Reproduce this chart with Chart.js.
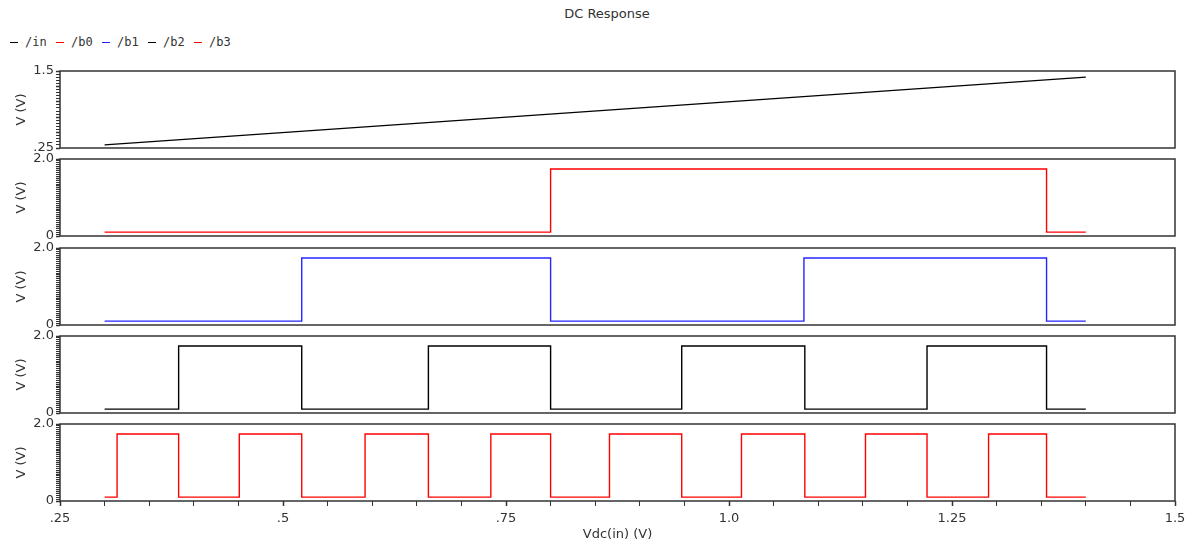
<!DOCTYPE html>
<html>
<head>
<meta charset="utf-8">
<title>DC Response</title>
<script src="https://cdn.jsdelivr.net/npm/chart.js@4.4.0/dist/chart.umd.min.js"></script>
<style>
  body { margin: 0; background: #fff; }
  #wrap { position: relative; width: 1200px; height: 552px; overflow: hidden; font-family: "DejaVu Sans", sans-serif; }
  #wrap canvas { position: absolute; left: 0; }
  #title { position: absolute; top: 6px; left: 557px; width: 100px; text-align: center; font-size: 13px; color: #333; }
  #legend { position: absolute; top: 35px; left: 10px; font-family: "DejaVu Sans Mono", monospace; font-size: 12px; color: #333; white-space: nowrap; }
  #legend .item { display: inline-block; width: 46px; }
  #legend .dash { display: inline-block; width: 8px; border-top: 1.5px solid; vertical-align: middle; margin-right: 7px; }
</style>
</head>
<body>
<div id="wrap">
  <div id="title">DC Response</div>
  <div id="legend"></div>
</div>
<script>
// series names / colours (legend order)
const seriesNames = ['/in', '/b0', '/b1', '/b2', '/b3'];
const seriesColors = ['#000000', '#ff0000', '#2626ff', '#000000', '#ff0000'];

// /in : swept input
const inX = [0.3, 1.4];
const inY = [0.3, 1.4];

// output bits, value changes at each x
const b0X = [0.3, 0.800, 1.356, 1.4];
const b0Y = [0.1, 1.74, 0.1, 0.1];
const b1X = [0.3, 0.521, 0.800, 1.084, 1.356, 1.4];
const b1Y = [0.1, 1.74, 0.1, 1.74, 0.1, 0.1];
const b2X = [0.3, 0.383, 0.521, 0.663, 0.800, 0.947, 1.085, 1.222, 1.356, 1.4];
const b2Y = [0.1, 1.74, 0.1, 1.74, 0.1, 1.74, 0.1, 1.74, 0.1, 0.1];
const b3X = [0.3, 0.314, 0.383, 0.451, 0.521, 0.592, 0.663, 0.733, 0.800,
             0.866, 0.947, 1.014, 1.085, 1.153, 1.222, 1.291, 1.356, 1.4];
const b3Y = [0.1, 1.74, 0.1, 1.74, 0.1, 1.74, 0.1, 1.74, 0.1,
             1.74, 0.1, 1.74, 0.1, 1.74, 0.1, 1.74, 0.1, 0.1];

// axes
const xRange = [0.25, 1.5];
const xTickValues = [0.25, 0.5, 0.75, 1.0, 1.25, 1.5];
const xTickLabels = ['.25', '.5', '.75', '1.0', '1.25', '1.5'];
const yRanges = [[0.25, 1.5], [0, 2], [0, 2], [0, 2], [0, 2]];
const yTickLabels = [['.25', '1.5'], ['0', '2.0'], ['0', '2.0'], ['0', '2.0'], ['0', '2.0']];

// layout of the stacked panels
const panelTop = [71, 159, 248, 336, 424];
const panelH = 77;
const pad = 10;

Chart.defaults.font.family = '"DejaVu Sans", sans-serif';
Chart.defaults.font.size = 13;
Chart.defaults.color = '#333';

// legend
const legend = document.getElementById('legend');
seriesNames.forEach((name, i) => {
    const item = document.createElement('span');
    item.className = 'item';
    item.innerHTML = '<span class="dash" style="border-color:' + seriesColors[i] + '"></span>' + name;
    legend.appendChild(item);
});

// box round each plot area
const framePlugin = {
    id: 'frame',
    afterDatasetsDraw(chart) {
        const a = chart.chartArea, ctx = chart.ctx;
        ctx.save();
        ctx.strokeStyle = '#333';
        ctx.lineWidth = 1.5;
        ctx.strokeRect(a.left, a.top, a.right - a.left, a.bottom - a.top);
        ctx.restore();
    }
};

function near(a, b) { return Math.abs(a - b) < 1e-6; }

function makePanel(i, xs, ys, stepped) {
    const last = i === seriesNames.length - 1;
    const top = panelTop[i] - pad;
    const h = last ? 552 - top : panelH + 2 * pad;
    const canvas = document.createElement('canvas');
    canvas.width = 1200;
    canvas.height = h;
    canvas.style.top = top + 'px';
    document.getElementById('wrap').appendChild(canvas);

    const [ymin, ymax] = yRanges[i];
    new Chart(canvas.getContext('2d'), {
        type: 'line',
        data: {
            datasets: [{
                label: seriesNames[i],
                data: xs.map((x, k) => ({ x: x, y: ys[k] })),
                borderColor: seriesColors[i],
                borderWidth: 1.4,
                pointRadius: 0,
                stepped: stepped,
                tension: 0
            }]
        },
        options: {
            responsive: false,
            animation: false,
            events: [],
            layout: { padding: { top: pad, right: 25, bottom: last ? 0 : pad, left: 0 } },
            plugins: { legend: { display: false }, tooltip: { enabled: false } },
            scales: {
                x: {
                    type: 'linear',
                    min: xRange[0],
                    max: xRange[1],
                    display: last,
                    border: { display: false },
                    grid: { drawOnChartArea: false, tickLength: 5, color: '#333',
                            tickWidth: c => xTickValues.some(t => near(t, c.tick.value)) ? 1.5 : 1 },
                    ticks: {
                        stepSize: 0.05, autoSkip: false, maxRotation: 0, padding: 5,
                        callback: v => {
                            const k = xTickValues.findIndex(t => near(t, v));
                            return k >= 0 ? xTickLabels[k] : '';
                        }
                    },
                    title: { display: true, text: 'Vdc(in) (V)', padding: { top: 0, bottom: 10 } },
                    afterFit: s => { s.height = last ? 51 : 0; }
                },
                y: {
                    min: ymin,
                    max: ymax,
                    border: { display: false },
                    grid: { drawOnChartArea: false, tickLength: 4, color: '#333',
                            tickWidth: c => near((c.tick.value * 4) % 1, 0) || near((c.tick.value * 4) % 1, 1) ? 1.5 : 1 },
                    ticks: {
                        stepSize: 0.05, autoSkip: false, padding: 2,
                        callback: v => near(v, ymin) ? yTickLabels[i][0] : (near(v, ymax) ? yTickLabels[i][1] : '')
                    },
                    title: { display: true, text: 'V (V)', padding: { top: 14, bottom: 0 } },
                    afterFit: s => { s.width = 60; }
                }
            }
        },
        plugins: [framePlugin]
    });
}

makePanel(0, inX, inY, false);
makePanel(1, b0X, b0Y, true);
makePanel(2, b1X, b1Y, true);
makePanel(3, b2X, b2Y, true);
makePanel(4, b3X, b3Y, true);
</script>
</body>
</html>
